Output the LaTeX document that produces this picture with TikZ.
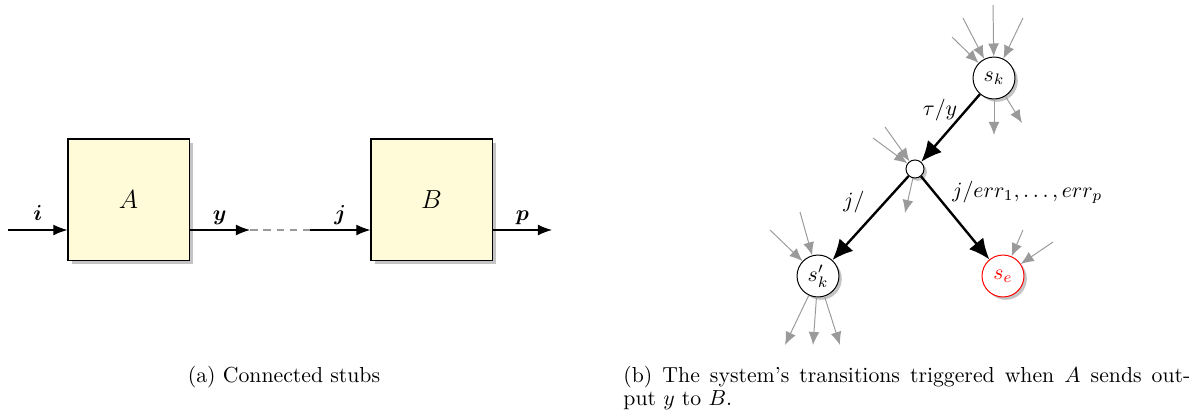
\documentclass[tikz,border=0pt]{standalone}
\usepackage{bm}
\usetikzlibrary{arrows.meta,shadows}
\definecolor{boxfill}{HTML}{FFFAD8}
\definecolor{arrgray}{HTML}{9A9A9A}
\definecolor{shgray}{HTML}{C4C4C4}
\begin{document}
\begin{tikzpicture}[x=0.46pt,y=-0.46pt,
  blk/.style={draw, line width=0.5pt, fill=boxfill, minimum size=55.7pt, inner sep=0pt, font=\large,
    drop shadow={shadow xshift=1.8pt, shadow yshift=-1.8pt, fill=shgray, opacity=1}},
  st/.style={circle, draw, line width=0.45pt, fill=white, minimum size=19.3pt, inner sep=0pt,
    drop shadow={shadow xshift=1.3pt, shadow yshift=-1.3pt, fill=shgray, opacity=1}},
  sig/.style={line width=0.5pt, -{Latex[length=6.5pt,width=5pt]}},
  thk/.style={line width=1.1pt, -{Latex[length=9.5pt,width=8.5pt]}},
  gar/.style={draw=arrgray, line width=0.45pt, -{Latex[length=6pt,width=5pt]}},
  lab/.style={anchor=base, yshift=4.5pt},
  dsh/.style={draw=arrgray, line width=0.55pt, dash pattern=on 3.5pt off 2.6pt}
]
\useasboundingbox (0,0) rectangle (1197,417);

% ---------- (a) ----------
\node[blk] (A) at (128.5,199.5) {$A$};
\node[blk] (B) at (431.5,199.5) {$B$};
\coordinate (i0) at (8,230);
\coordinate (y1) at (250,230);
\coordinate (j0) at (310,230);
\coordinate (p1) at (552,230);
\draw[sig] (i0) -- (i0 -| A.west) node[midway,lab] (li) {$\bm{i}$};
\draw[sig] (i0 -| A.east) -- (y1) node[midway,lab] (ly) {$\bm{y}$};
\draw[dsh] (y1) -- (j0);
\draw[sig] (j0) -- (j0 -| B.west) node[midway,lab] (lj) {$\bm{j}$};
\draw[sig] (j0 -| B.east) -- (p1) node[midway,lab] (lp) {$\bm{p}$};

% ---------- (b) ----------
\node[st] (sk) at (994,78) {$s_k$};
\node[st, minimum size=8.3pt] (sm) at (915,169) {};
\node[st] (sk2) at (818,276) {$s'_k$};
\node[st, draw=red, text=red] (se) at (1003,276) {$s_e$};

\draw[thk] (sk) -- (sm);
\draw[thk] (sm) -- (sk2);
\draw[thk] (sm) -- (se);
\node (ltau) at (940,110) {$\tau/y$};
\node (lj2) at (854,202) {$j/$};
\node[anchor=west, inner sep=0pt] (lerr) at (952,192) {$j/err_1,\dots,err_p$};

% gray stubs
\coordinate (a1) at (993,5);
\coordinate (a2) at (1023,18);
\coordinate (a3) at (963,18);
\coordinate (a4) at (952,37);
\coordinate (b1) at (994,135);
\coordinate (b2) at (1022,123);
\coordinate (c1) at (885,127);
\coordinate (c2) at (873,138);
\coordinate (d1) at (905,213);
\coordinate (e1) at (770,230);
\coordinate (e2) at (800,212);
\coordinate (f1) at (785,345);
\coordinate (f2) at (813,345);
\coordinate (f3) at (840,345);
\coordinate (g1) at (1023,230);
\coordinate (g2) at (1053,242);

\draw[gar] (a1) -- (sk);
\draw[gar] (a2) -- (sk);
\draw[gar] (a3) -- (sk);
\draw[gar] (a4) -- (sk);
\draw[gar] (sk) -- (b1);
\draw[gar] (sk) -- (b2);
\draw[gar] (c1) -- (sm);
\draw[gar] (c2) -- (sm);
\draw[gar] (sm) -- (d1);
\draw[gar] (e1) -- (sk2);
\draw[gar] (e2) -- (sk2);
\draw[gar] (sk2) -- (f1);
\draw[gar] (sk2) -- (f2);
\draw[gar] (sk2) -- (f3);
\draw[gar] (g1) -- (se);
\draw[gar] (g2) -- (se);

% ---------- captions ----------
\node[anchor=base, inner sep=0pt] (capa) at (284,382) {(a) Connected stubs};
\node[anchor=base west, inner sep=0pt] (capb1) at (623,382)
  {\makebox[260.8pt][s]{(b) The system's transitions triggered when $A$ sends out-}};
\node[anchor=base west, inner sep=0pt] (capb2) at (623,405) {put $y$ to $B$.};
\end{tikzpicture}
\end{document}
